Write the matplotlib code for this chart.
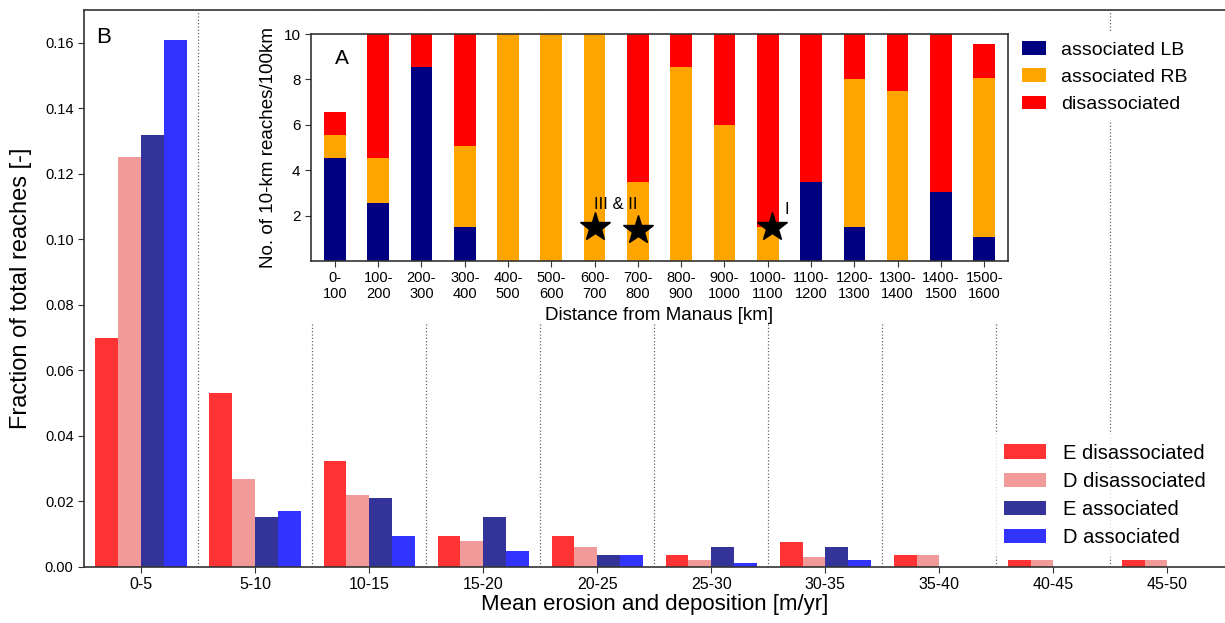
import matplotlib.pyplot as plt
import matplotlib.patches as mpatches
import numpy as np

plt.rcParams['font.family'] = ['Liberation Sans', 'DejaVu Sans']

# Datos del histograma principal (B)
# ========================================
clases = ['0-5', '5-10', '10-15', '15-20', '20-25', '25-30', '30-35', '35-40', '40-45', '45-50']
e_disassoc = [0.070, 0.053, 0.0325, 0.0095, 0.0095, 0.0038, 0.0075, 0.0038, 0.0022, 0.0022]
d_disassoc = [0.125, 0.027, 0.022, 0.0080, 0.0060, 0.0022, 0.0032, 0.0038, 0.0022, 0.0022]
e_assoc = [0.132, 0.0153, 0.021, 0.0153, 0.0038, 0.0060, 0.0060, 0.0, 0.0, 0.0]
d_assoc = [0.161, 0.0172, 0.0095, 0.0050, 0.0038, 0.0011, 0.0022, 0.0, 0.0, 0.0]

# Datos del recuadro (A)
# ========================================
tramos = ['0-\n100', '100-\n200', '200-\n300', '300-\n400', '400-\n500', '500-\n600',
          '600-\n700', '700-\n800', '800-\n900', '900-\n1000', '1000-\n1100', '1100-\n1200',
          '1200-\n1300', '1300-\n1400', '1400-\n1500', '1500-\n1600']
assoc_lb = [4.55, 2.55, 8.55, 1.5, 0, 0, 0, 0, 0, 0, 0, 3.5, 1.5, 0, 3.05, 1.05]
assoc_rb = [1.0, 2.0, 0, 3.55, 10, 10, 10, 3.5, 8.55, 6.0, 1.5, 0, 6.5, 7.5, 0, 7.0]
disassoc = [1.0, 5.45, 1.45, 4.95, 0, 0, 0, 6.5, 1.45, 4.0, 8.5, 6.5, 2.0, 2.5, 6.95, 1.5]

# Estrellas de los sitios I, II, III
estrellas_x = [6, 7, 10.1]
estrellas_y = [1.5, 1.38, 1.5]

# Figura principal
# ========================================
fig = plt.figure(figsize=(12.25, 6.23), dpi=100)
ax = fig.add_axes([0.0686, 0.0899, 0.931, 0.894])

x = np.arange(len(clases))
w = 0.2
ax.bar(x - 1.5 * w, e_disassoc, w, color='#ff3333', label='E disassociated')
ax.bar(x - 0.5 * w, d_disassoc, w, color='#f09a9a', label='D disassociated')
ax.bar(x + 0.5 * w, e_assoc, w, color='#333399', label='E associated')
ax.bar(x + 1.5 * w, d_assoc, w, color='#3333ff', label='D associated')

for i in range(len(clases) - 1):
    ax.axvline(i + 0.5, color='#666666', linestyle=':', linewidth=0.9, zorder=0)

ax.set_xlim(-0.5, len(clases) - 0.5)
ax.set_ylim(0, 0.170)
ax.set_xticks(x)
ax.set_xticklabels(clases, fontsize=11.5)
ax.set_yticks(np.arange(0, 0.161, 0.02))
ax.set_yticklabels(['%.2f' % v for v in np.arange(0, 0.161, 0.02)], fontsize=10.5)
ax.tick_params(direction='out', length=4, color='#333333')
ax.set_xlabel('Mean erosion and deposition [m/yr]', fontsize=16, labelpad=1)
ax.set_ylabel('Fraction of total reaches [-]', fontsize=17, labelpad=9)
ax.spines['right'].set_visible(False)
for s in ax.spines.values():
    s.set_color('#333333')
    s.set_linewidth(1.2)
ax.text(0.011, 0.94, 'B', transform=ax.transAxes, fontsize=16)

leg = ax.legend(loc='center', bbox_to_anchor=(0.895, 0.129), fontsize=14.5, frameon=True,
                handlelength=2.1, handleheight=0.7, handletextpad=0.8, labelspacing=0.45,
                borderpad=0.5)
leg.get_frame().set_edgecolor('none')
leg.get_frame().set_facecolor('white')
leg.get_frame().set_alpha(0.8)

# Fondo blanco del recuadro (tapa las líneas punteadas)
fig.patches.append(mpatches.Rectangle((0.185, 0.48), 0.64, 0.50, transform=fig.transFigure,
                                      facecolor='white', edgecolor='none', zorder=2))

# Recuadro (A)
# ========================================
axi = fig.add_axes([0.2539, 0.581, 0.569, 0.3644], zorder=3)
xi = np.arange(len(tramos))
axi.bar(xi, assoc_lb, 0.5, color='#000080', label='associated LB')
axi.bar(xi, assoc_rb, 0.5, bottom=assoc_lb, color='#ffa500', label='associated RB')
base = np.array(assoc_lb) + np.array(assoc_rb)
axi.bar(xi, disassoc, 0.5, bottom=base, color='#ff0000', label='disassociated')

axi.plot(estrellas_x, estrellas_y, linestyle='none', marker='*', markersize=22, color='black')
axi.text(6.5, 2.47, 'III & II', fontsize=12, ha='center', va='center')
axi.text(10.44, 2.25, 'I', fontsize=12, ha='center', va='center')
axi.text(0.035, 0.87, 'A', transform=axi.transAxes, fontsize=15)

axi.set_xlim(-0.55, len(tramos) - 0.45)
axi.set_ylim(0, 10)
axi.set_yticks([2, 4, 6, 8, 10])
axi.set_xticks(xi)
axi.set_xticklabels(tramos, fontsize=10.5, linespacing=1.1)
axi.tick_params(axis='y', labelsize=11)
axi.tick_params(direction='out', length=4, color='#333333')
axi.set_xlabel('Distance from Manaus [km]', fontsize=13.5, labelpad=5)
axi.set_ylabel('No. of 10-km reaches/100km', fontsize=13.5, labelpad=5)
for s in axi.spines.values():
    s.set_color('#333333')
    s.set_linewidth(1.2)

legi = axi.legend(loc='center', bbox_to_anchor=(1.139, 0.81), fontsize=14, frameon=True,
                  handlelength=1.2, handleheight=0.7, handletextpad=0.8, labelspacing=0.5,
                  borderpad=0.4)
legi.get_frame().set_edgecolor('none')
legi.get_frame().set_facecolor('white')
legi.get_frame().set_alpha(1.0)

plt.savefig('out.png', dpi=100)
plt.close()
